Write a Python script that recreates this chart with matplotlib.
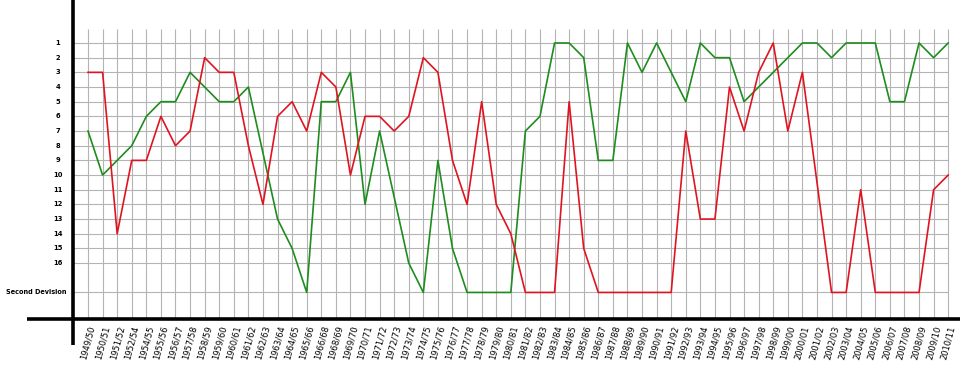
import matplotlib
matplotlib.use("Agg")
import matplotlib.pyplot as plt

seasons = ["1949/50", "1950/51", "1951/52", "1952/54", "1954/55", "1955/56", "1956/57",
           "1957/58", "1958/59", "1959/60", "1960/61", "1961/62", "1962/63", "1963/64",
           "1964/65", "1965/66", "1966/68", "1968/69", "1969/70", "1970/71", "1971/72",
           "1972/73", "1973/74", "1974/75", "1975/76", "1976/77", "1977/78", "1978/79",
           "1979/80", "1980/81", "1981/82", "1982/83", "1983/84", "1984/85", "1985/86",
           "1986/87", "1987/88", "1988/89", "1989/90", "1990/91", "1991/92", "1992/93",
           "1993/94", "1994/95", "1995/96", "1996/97", "1997/98", "1998/99", "1999/00",
           "2000/01", "2001/02", "2002/03", "2003/04", "2004/05", "2005/06", "2006/07",
           "2007/08", "2008/09", "2009/10", "2010/11"]

# league position per season (18 = second division)
green = [7, 10, 9, 8, 6, 5, 5, 3, 4, 5, 5, 4, 8.5, 13, 15, 18, 5, 5, 3, 12,
         7, 11.5, 16, 18, 9, 15, 18, 18, 18, 18, 7, 6, 1, 1, 2, 9, 9, 1, 3, 1,
         3, 5, 1, 2, 2, 5, 4, 3, 2, 1, 1, 2, 1, 1, 1, 5, 5, 1, 2, 1]
red = [3, 3, 14, 9, 9, 6, 8, 7, 2, 3, 3, 8, 12, 6, 5, 7, 3, 4, 10, 6,
       6, 7, 6, 2, 3, 9, 12, 5, 12, 14, 18, 18, 18, 5, 15, 18, 18, 18, 18, 18,
       18, 7, 13, 13, 4, 7, 3, 1, 7, 3, 10.5, 18, 18, 11, 18, 18, 18, 18, 11, 10]

pos_ticks = list(range(1, 17)) + [18]
pos_labels = [str(p) for p in range(1, 17)] + ["Second Devision"]

fig = plt.figure(figsize=(9.6, 3.65), dpi=100)
ax = fig.add_axes([73 / 960, 46 / 365, 887 / 960, 319 / 365])

x = list(range(len(seasons)))
ax.set_xlim(-1.03, 59.81)
ax.set_ylim(19.81, -1.93)

# grid
ax.vlines(x, 0.05, 19.81, color="#b4b4b4", lw=0.8, zorder=1)
ax.hlines(pos_ticks, -1.03, x[-1], color="#b4b4b4", lw=0.8, zorder=1)

ax.plot(x, green, color="#1e8c1e", lw=1.2, zorder=3)
ax.plot(x, red, color="#e01420", lw=1.2, zorder=3)

for s in ax.spines.values():
    s.set_visible(False)
ax.set_yticks([])
ax.set_xticks(x)
ax.set_xticklabels(seasons, rotation=75, ha="center", va="top", fontsize=6)
ax.tick_params(axis="x", length=0, pad=4)

# y labels
yt = ax.get_yaxis_transform()
for p, lab in zip(pos_ticks, pos_labels):
    if p == 18:
        ax.text(-0.0068, p, lab, transform=yt, ha="right", va="center",
                fontsize=4.7, fontweight="bold")
    else:
        ax.text(-0.0169, p, lab, transform=yt, ha="center", va="center",
                fontsize=4.9, fontweight="bold")

# thick axis lines
ax.plot([0, 0], [1, -26 / 319], transform=ax.transAxes, color="black",
        lw=2.6, clip_on=False, zorder=5, solid_capstyle="butt")
ax.plot([-46 / 887, 1], [0, 0], transform=ax.transAxes, color="black",
        lw=2.6, clip_on=False, zorder=5, solid_capstyle="butt")

fig.savefig("out.png", dpi=100)
